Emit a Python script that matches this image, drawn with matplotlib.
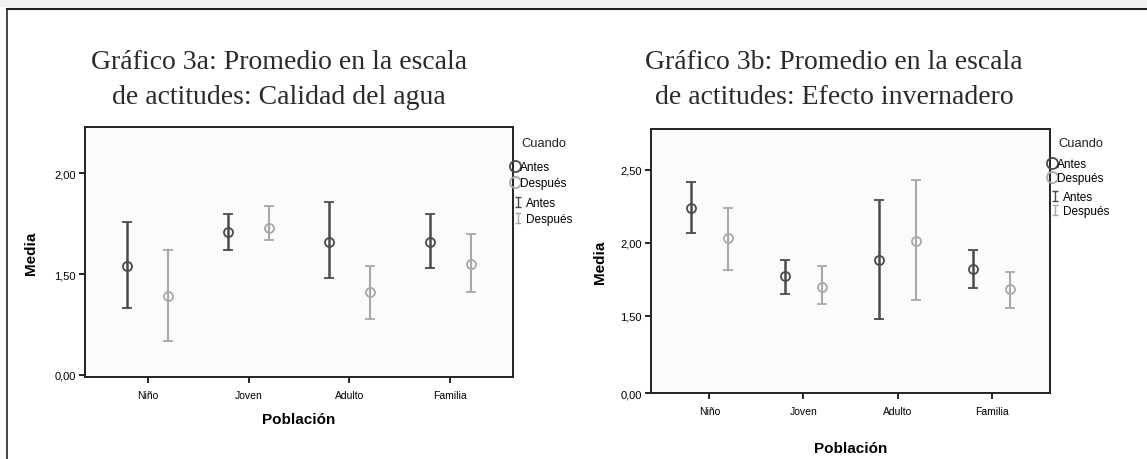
import numpy as np
import matplotlib
matplotlib.use("Agg")
import matplotlib.pyplot as plt
from matplotlib.lines import Line2D
from matplotlib.patches import Rectangle
from matplotlib.path import Path

# categories and series
poblacion = ["Niño", "Joven", "Adulto", "Familia"]
series = ["Antes", "Después"]

# Gráfico 3a: Calidad del agua (mean, lower, upper)
agua_antes = [1.54, 1.71, 1.66, 1.66]
agua_antes_lo = [1.33, 1.62, 1.48, 1.53]
agua_antes_hi = [1.76, 1.80, 1.86, 1.80]
agua_despues = [1.39, 1.73, 1.41, 1.55]
agua_despues_lo = [1.17, 1.67, 1.28, 1.41]
agua_despues_hi = [1.62, 1.84, 1.54, 1.70]

# Gráfico 3b: Efecto invernadero
inv_antes = [2.24, 1.77, 1.88, 1.82]
inv_antes_lo = [2.07, 1.65, 1.48, 1.69]
inv_antes_hi = [2.42, 1.88, 2.29, 1.95]
inv_despues = [2.03, 1.70, 2.01, 1.68]
inv_despues_lo = [1.81, 1.58, 1.61, 1.55]
inv_despues_hi = [2.24, 1.84, 2.43, 1.80]

# SPSS-style axis: the origin label "0,00" sits at a break near 1.0
agua_ticks = [1.0, 1.5, 2.0]
agua_ticklabels = ["0,00", "1,50", "2,00"]
inv_ticks = [0.97, 1.5, 2.0, 2.5]
inv_ticklabels = ["0,00", "1,50", "2,00", "2,50"]

titles = ["Gráfico 3a: Promedio en la escala\nde actitudes: Calidad del agua",
          "Gráfico 3b: Promedio en la escala\nde actitudes: Efecto invernadero"]

col_antes = "#4a4a4a"
col_desp = "#a8a8a8"
sans = ["Liberation Sans", "DejaVu Sans"]
serif = ["Liberation Serif", "DejaVu Serif"]

# little "I" error bar glyph for the legend
ibar = Path([(-0.6, -1), (0.6, -1), (0, -1), (0, 1), (-0.6, 1), (0.6, 1)],
            [Path.MOVETO, Path.LINETO, Path.MOVETO, Path.LINETO, Path.MOVETO, Path.LINETO])

W, H = 1147, 460
fig = plt.figure(figsize=(W / 100, H / 100), dpi=100)
fig.patch.set_facecolor("white")

# outer frame (top and left edges only)
fig.add_artist(Rectangle((0, 1 - 8 / H), 1, 8 / H, transform=fig.transFigure,
                         facecolor="#f2f2f2", edgecolor="none"))
fig.add_artist(Line2D([7 / W, 1], [1 - 10 / H, 1 - 10 / H], transform=fig.transFigure,
                      color="#222222", lw=1.5))
fig.add_artist(Line2D([7 / W, 7 / W], [0, 1 - 10 / H], transform=fig.transFigure,
                      color="#222222", lw=1.2))


def draw_panel(rect, ylim, ticks, ticklabels, antes, a_lo, a_hi, desp, d_lo, d_hi,
               title_xy, title, xlab_y, leg_y, spacing):
    ax = fig.add_axes(rect)
    ax.set_facecolor("#fbfbfb")
    x = np.arange(len(poblacion))
    a = np.array(antes)
    d = np.array(desp)
    ax.errorbar(x - 0.2, a, yerr=[a - np.array(a_lo), np.array(a_hi) - a], fmt="o",
                mfc="none", mec=col_antes, ms=6.5, mew=1.3, ecolor=col_antes,
                elinewidth=1.8, capsize=3.5, capthick=1.5)
    ax.errorbar(x + 0.2, d, yerr=[d - np.array(d_lo), np.array(d_hi) - d], fmt="o",
                mfc="none", mec=col_desp, ms=6.5, mew=1.3, ecolor=col_desp,
                elinewidth=1.5, capsize=3.5, capthick=1.3)
    ax.set_xlim(-0.62, 3.62)
    ax.set_ylim(*ylim)
    ax.set_xticks(x)
    ax.set_xticklabels(poblacion, fontfamily=sans, fontsize=7.5)
    ax.set_yticks(ticks)
    ax.set_yticklabels(ticklabels, fontfamily=sans, fontsize=8)
    ax.tick_params(direction="out", length=4.5, width=1.2, pad=2)
    ax.tick_params(axis="x", pad=5)
    for s in ax.spines.values():
        s.set_linewidth(1.4)
        s.set_color("#222222")
    ax.set_ylabel("Media", fontfamily=sans, fontsize=11, fontweight="bold")
    ax.yaxis.set_label_coords(-0.11, 0.5)
    ax.set_xlabel("Población", fontfamily=sans, fontsize=11, fontweight="bold")
    ax.xaxis.set_label_coords(0.5, xlab_y)
    fig.text(title_xy[0], title_xy[1], title, ha="center", va="center",
             fontfamily=serif, fontsize=20, linespacing=1.5, color="#2a2a2a")

    # legend: "Cuando", then circles, then I-bars
    ax.text(1.02, leg_y[0], "Cuando", transform=ax.transAxes, ha="left", va="center",
            fontfamily=sans, fontsize=9.3, color="#222222")
    h1 = [Line2D([], [], ls="none", marker="o", mfc="none", mec=col_antes, ms=8, mew=1.3),
          Line2D([], [], ls="none", marker="o", mfc="none", mec=col_desp, ms=8, mew=1.3)]
    leg1 = ax.legend(h1, series, loc="upper left", bbox_to_anchor=(0.995, leg_y[1]),
                     frameon=False, handlelength=0.7, handletextpad=0.1,
                     borderaxespad=0, borderpad=0, labelspacing=spacing,
                     prop={"family": sans, "size": 8.5})
    ax.add_artist(leg1)
    h2 = [Line2D([], [], ls="none", marker=ibar, mfc="none", mec=col_antes, ms=7, mew=1.0),
          Line2D([], [], ls="none", marker=ibar, mfc="none", mec=col_desp, ms=7, mew=1.0)]
    ax.legend(h2, series, loc="upper left", bbox_to_anchor=(1.002, leg_y[2]),
              frameon=False, handlelength=0.7, handletextpad=0.3, borderaxespad=0,
              borderpad=0, labelspacing=spacing, prop={"family": sans, "size": 8.5})
    return ax


draw_panel([85 / W, 1 - 378 / H, 428 / W, 250 / H], (0.99, 2.23), agua_ticks,
           agua_ticklabels, agua_antes, agua_antes_lo, agua_antes_hi,
           agua_despues, agua_despues_lo, agua_despues_hi,
           (279 / W, 1 - 80 / H), titles[0], -0.14, (0.936, 0.865, 0.72), 0.35)
draw_panel([651 / W, 1 - 394 / H, 399 / W, 264 / H], (0.97, 2.78), inv_ticks,
           inv_ticklabels, inv_antes, inv_antes_lo, inv_antes_hi,
           inv_despues, inv_despues_lo, inv_despues_hi,
           (834 / W, 1 - 80 / H), titles[1], -0.182, (0.947, 0.89, 0.765), 0.2)

fig.savefig("out.png", dpi=100)
